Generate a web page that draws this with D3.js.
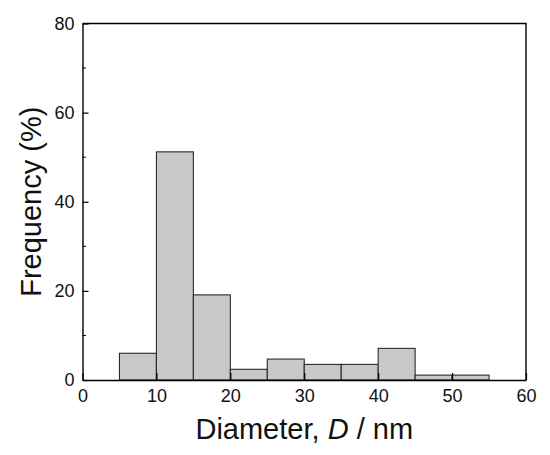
<!DOCTYPE html>
<html>
<head>
<meta charset="utf-8">
<script src="https://cdn.jsdelivr.net/npm/d3@7"></script>
<style>
  body { margin: 0; background: #fff; }
  text { font-family: "Liberation Sans", Arial, sans-serif; fill: #111; }
</style>
</head>
<body>
<svg width="550" height="455"></svg>
<script>
// histogram bins (nm) and frequency (%)
var binStart = [5, 10, 15, 20, 25, 30, 35, 40, 45, 50];
var binWidth = 5;
var freq = [6.0, 51.2, 19.1, 2.4, 4.7, 3.5, 3.5, 7.1, 1.1, 1.1];
var xTicks = [0, 10, 20, 30, 40, 50, 60];
var yTicks = [0, 20, 40, 60, 80];
var yMinor = [10, 30, 50, 70];

var svg = d3.select("svg"),
    margin = { top: 23.5, right: 24, bottom: 75, left: 82.5 },
    width = +svg.attr("width") - margin.left - margin.right,
    height = +svg.attr("height") - margin.top - margin.bottom;

var x = d3.scaleLinear().domain([0, 60]).range([0, width]),
    y = d3.scaleLinear().domain([0, 80]).range([height, 0]);

var g = svg.append("g")
    .attr("transform", "translate(" + margin.left + "," + margin.top + ")");

// bars
g.selectAll("rect.bar")
    .data(binStart)
    .enter().append("rect")
    .attr("class", "bar")
    .attr("x", function (d) { return x(d); })
    .attr("width", function (d) { return x(d + binWidth) - x(d); })
    .attr("y", function (d, i) { return y(freq[i]); })
    .attr("height", function (d, i) { return height - y(freq[i]); })
    .attr("fill", "#c8c8c8")
    .attr("stroke", "#2a2a2a")
    .attr("stroke-width", 1.1);

// axes, ticks point inward
var xAxis = d3.axisBottom(x).tickValues(xTicks).tickSizeInner(-7).tickSizeOuter(0).tickPadding(9);
var yAxis = d3.axisLeft(y).tickValues(yTicks).tickSizeInner(-6).tickSizeOuter(0).tickPadding(8);

var gx = g.append("g")
    .attr("transform", "translate(0," + height + ")")
    .call(xAxis);
var gy = g.append("g").call(yAxis);

g.append("g").selectAll("line")
    .data(yMinor)
    .enter().append("line")
    .attr("x1", 0).attr("x2", 3.5)
    .attr("y1", function (d) { return y(d); })
    .attr("y2", function (d) { return y(d); })
    .attr("stroke", "#000");

[gx, gy].forEach(function (a) {
    a.attr("font-size", null).attr("font-family", null);
    a.selectAll("text").style("font-size", "18px").attr("fill", "#111");
    a.selectAll("line").attr("stroke", "#000").attr("stroke-width", 1.2);
    a.select(".domain").attr("stroke", "#000").attr("stroke-width", 1.4);
});

// frame top/right
g.append("path")
    .attr("d", "M0,0H" + width + "V" + height)
    .attr("fill", "none")
    .attr("stroke", "#000")
    .attr("stroke-width", 1.4);

// axis titles
svg.append("text")
    .attr("x", margin.left + width / 2)
    .attr("y", 439)
    .attr("text-anchor", "middle")
    .style("font-size", "29px")
    .html('Diameter, <tspan font-style="italic">D</tspan> / nm');

svg.append("text")
    .attr("transform", "translate(41," + (margin.top + height / 2) + ") rotate(-90)")
    .attr("text-anchor", "middle")
    .style("font-size", "29px")
    .text("Frequency (%)");
</script>
</body>
</html>
